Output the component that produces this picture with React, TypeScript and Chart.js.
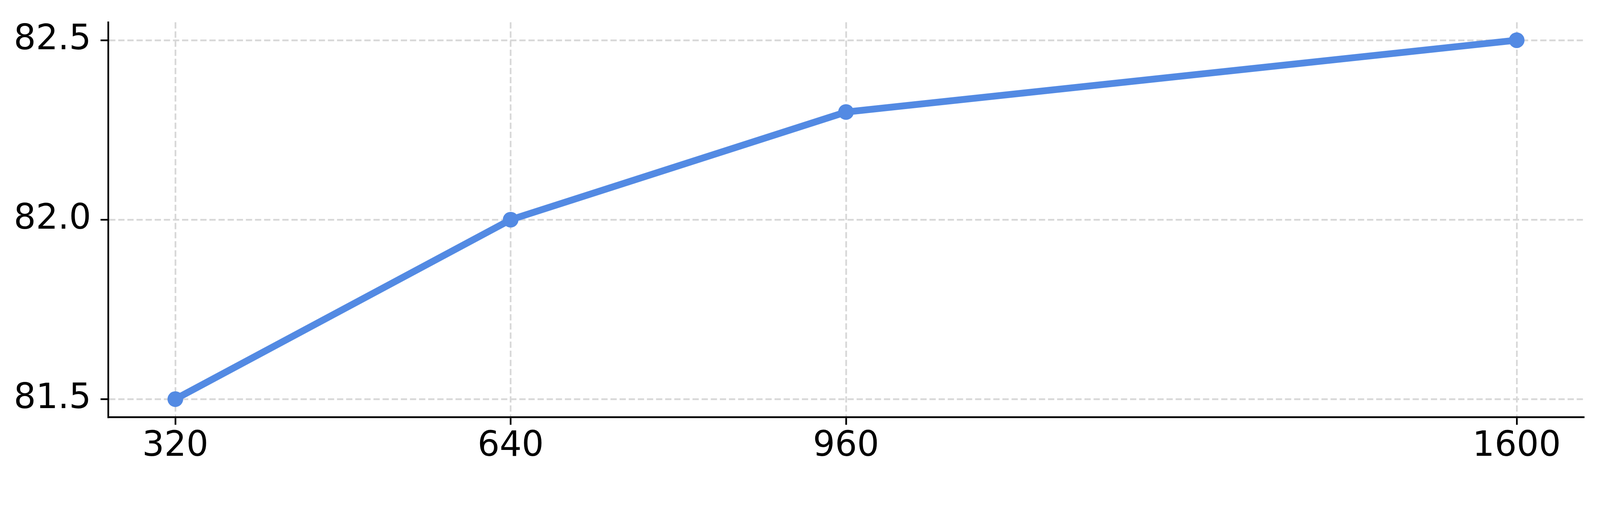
import React, { useEffect, useRef } from "react";
import { Chart, registerables } from "chart.js";

Chart.register(...registerables);

const xValues = [320, 640, 960, 1600];
const yValues = [81.5, 82.0, 82.3, 82.5];
const xTickValues = [320, 640, 960, 1600];
const yTickValues = [81.5, 82.0, 82.5];

const REF_W = 5617;
const REF_H = 1297;
const LINE_COLOR = "#538ae3";
const GRID_COLOR = "#d8d8d8";

export default function App() {
  const boxRef = useRef<HTMLDivElement | null>(null);
  const ref = useRef<HTMLCanvasElement | null>(null);

  useEffect(() => {
    document.documentElement.style.margin = "0";
    document.body.style.margin = "0";
    document.body.style.overflow = "hidden";
    const canvas = ref.current;
    const box = boxRef.current;
    if (!canvas || !box) return;
    const w = box.clientWidth || window.innerWidth;
    const h = box.clientHeight || window.innerHeight;
    const sx = w / REF_W;
    const sy = h / REF_H;
    const s = Math.min(sx, sy);
    const font = { family: "'DejaVu Sans'", size: 122 * s };
    const lw = 6 * s;

    const chart = new Chart(canvas, {
      type: "line",
      data: {
        datasets: [
          {
            data: xValues.map((x, i) => ({ x, y: yValues[i] })),
            borderColor: LINE_COLOR,
            backgroundColor: LINE_COLOR,
            borderWidth: 24 * s,
            pointRadius: 27.5 * s,
            pointBorderWidth: 0,
            pointBackgroundColor: LINE_COLOR,
            tension: 0,
            fill: false,
          },
        ],
      },
      options: {
        animation: false,
        responsive: true,
        maintainAspectRatio: false,
        layout: { padding: { top: 57 * sy, right: 57 * sx, left: 0, bottom: 0 } },
        plugins: { legend: { display: false }, tooltip: { enabled: false } },
        scales: {
          x: {
            type: "linear",
            min: 256,
            max: 1664,
            afterBuildTicks: (scale: any) => {
              scale.ticks = xTickValues.map((v) => ({ value: v }));
            },
            afterFit: (scale: any) => {
              scale.height = (REF_H - 1067) * sy;
              scale.paddingLeft = 0;
              scale.paddingRight = 0;
            },
            ticks: {
              color: "#000",
              font,
              padding: 4 * s,
              maxRotation: 0,
              autoSkip: false,
              callback: (v: any) => String(v),
            },
            grid: {
              color: GRID_COLOR,
              lineWidth: lw,
              drawTicks: true,
              tickLength: 27 * s,
              tickColor: "#000",
              tickWidth: lw,
            },
            border: { display: true, color: "#000", width: lw, dash: [22 * s, 10 * s] },
          },
          y: {
            type: "linear",
            min: 81.45,
            max: 82.55,
            afterBuildTicks: (scale: any) => {
              scale.ticks = yTickValues.map((v) => ({ value: v }));
            },
            afterFit: (scale: any) => {
              scale.width = 380 * sx;
              scale.paddingTop = 0;
              scale.paddingBottom = 0;
            },
            ticks: {
              color: "#000",
              font,
              padding: 33 * s,
              autoSkip: false,
              callback: (v: any) => Number(v).toFixed(1),
            },
            grid: {
              color: GRID_COLOR,
              lineWidth: lw,
              drawTicks: true,
              tickLength: 27 * s,
              tickColor: "#000",
              tickWidth: lw,
            },
            border: { display: true, color: "#000", width: lw, dash: [22 * s, 10 * s] },
          },
        },
      },
    });
    return () => chart.destroy();
  }, []);

  return (
    <div ref={boxRef} style={{ position: "relative", width: "100vw", height: "100vh" }}>
      <canvas ref={ref} />
    </div>
  );
}
